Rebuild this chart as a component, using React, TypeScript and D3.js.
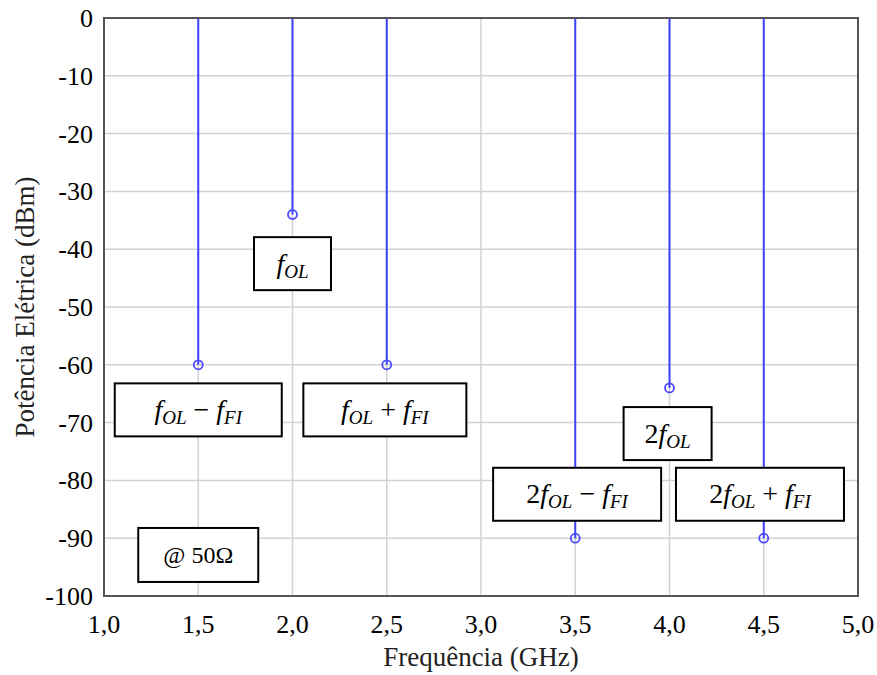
import React from "react";
import * as d3 from "d3";

const freqs = [1.5, 2.0, 2.5, 3.5, 4.0, 4.5];
const powers = [-60, -34, -60, -90, -64, -90];
const xTicks = [1.0, 1.5, 2.0, 2.5, 3.0, 3.5, 4.0, 4.5, 5.0];
const yTicks = [0, -10, -20, -30, -40, -50, -60, -70, -80, -90, -100];

// label boxes: prefix, first subscript, operator, second subscript, center in data coords
const labels = [
  { pre: "", a: "OL", op: "", b: "", cx: 2.0, cy: -42.5, w: 77 },
  { pre: "", a: "OL", op: "−", b: "FI", cx: 1.5, cy: -67.8, w: 167 },
  { pre: "", a: "OL", op: "+", b: "FI", cx: 2.49, cy: -67.8, w: 163 },
  { pre: "2", a: "OL", op: "", b: "", cx: 3.99, cy: -71.9, w: 88 },
  { pre: "2", a: "OL", op: "−", b: "FI", cx: 3.51, cy: -82.4, w: 168 },
  { pre: "2", a: "OL", op: "+", b: "FI", cx: 4.48, cy: -82.4, w: 168 },
];

const W = 877;
const H = 675;
const m = { left: 104, right: 19, top: 18, bottom: 79 };
const font = '"Liberation Serif", "Times New Roman", serif';

const App = () => {
  const x = d3.scaleLinear().domain([1, 5]).range([m.left, W - m.right]);
  const y = d3.scaleLinear().domain([-100, 0]).range([H - m.bottom, m.top]);
  const data = freqs.map((f, i) => ({ f, p: powers[i] }));
  const bh = 53;
  const sub = { fontStyle: "italic" as const, fontSize: 19 };

  return (
    <svg
      width={W}
      height={H}
      style={{ position: "absolute", left: 0, top: 0, display: "block", background: "#fff" }}
    >
      {/* grid */}
      <g stroke="#d2d2d2" strokeWidth={1.5}>
        {xTicks.slice(1, -1).map((d) => (
          <line key={"gx" + d} x1={x(d)} x2={x(d)} y1={y(0)} y2={y(-100)} />
        ))}
        {yTicks.slice(1, -1).map((d) => (
          <line key={"gy" + d} x1={x(1)} x2={x(5)} y1={y(d)} y2={y(d)} />
        ))}
      </g>

      {/* stems */}
      {data.map((d) => (
        <g key={"s" + d.f}>
          <line x1={x(d.f)} x2={x(d.f)} y1={y(0)} y2={y(d.p)} stroke="#4040ff" strokeWidth={2} />
          <circle cx={x(d.f)} cy={y(d.p)} r={4.5} fill="none" stroke="#4a4aff" strokeWidth={1.8} />
        </g>
      ))}

      {/* frame */}
      <rect
        x={x(1)}
        y={y(0)}
        width={x(5) - x(1)}
        height={y(-100) - y(0)}
        fill="none"
        stroke="#555"
        strokeWidth={2}
      />

      {/* tick labels */}
      <g style={{ fontFamily: font, fontSize: 26 }}>
        {yTicks.map((d) => (
          <text key={"ty" + d} x={x(1) - 11} y={y(d) + 9} textAnchor="end">
            {String(d)}
          </text>
        ))}
        {xTicks.map((d) => (
          <text key={"tx" + d} x={x(d)} y={y(-100) + 37} textAnchor="middle">
            {d.toFixed(1).replace(".", ",")}
          </text>
        ))}
      </g>

      {/* axis titles */}
      <text
        x={(x(1) + x(5)) / 2}
        y={666}
        textAnchor="middle"
        fill="#222"
        style={{ fontFamily: font, fontSize: 27 }}
      >
        Frequência (GHz)
      </text>
      <text
        transform={`translate(34, ${(y(0) + y(-100)) / 2}) rotate(-90)`}
        textAnchor="middle"
        fill="#222"
        style={{ fontFamily: font, fontSize: 27 }}
      >
        Potência Elétrica (dBm)
      </text>

      {/* label boxes */}
      {labels.map((l, i) => {
        const cx = x(l.cx);
        const cy = y(l.cy);
        return (
          <g key={"l" + i}>
            <rect
              x={cx - l.w / 2}
              y={cy - bh / 2}
              width={l.w}
              height={bh}
              fill="#fff"
              stroke="#000"
              strokeWidth={2}
            />
            <text x={cx} y={cy + 9} textAnchor="middle" style={{ fontFamily: font, fontSize: 28 }}>
              {l.pre && <tspan>{l.pre}</tspan>}
              <tspan fontStyle="italic">f</tspan>
              <tspan style={sub} dy={5}>{l.a}</tspan>
              {l.op && (
                <>
                  <tspan dy={-5}>{` ${l.op} `}</tspan>
                  <tspan fontStyle="italic">f</tspan>
                  <tspan style={sub} dy={5}>{l.b}</tspan>
                </>
              )}
            </text>
          </g>
        );
      })}

      {/* impedance note */}
      <rect
        x={x(1.5) - 60}
        y={y(-92.9) - 27}
        width={120}
        height={54}
        fill="#fff"
        stroke="#000"
        strokeWidth={2}
      />
      <text
        x={x(1.5)}
        y={y(-92.9) + 8}
        textAnchor="middle"
        style={{ fontFamily: font, fontSize: 24 }}
      >
        @ 50Ω
      </text>
    </svg>
  );
};

export default App;
